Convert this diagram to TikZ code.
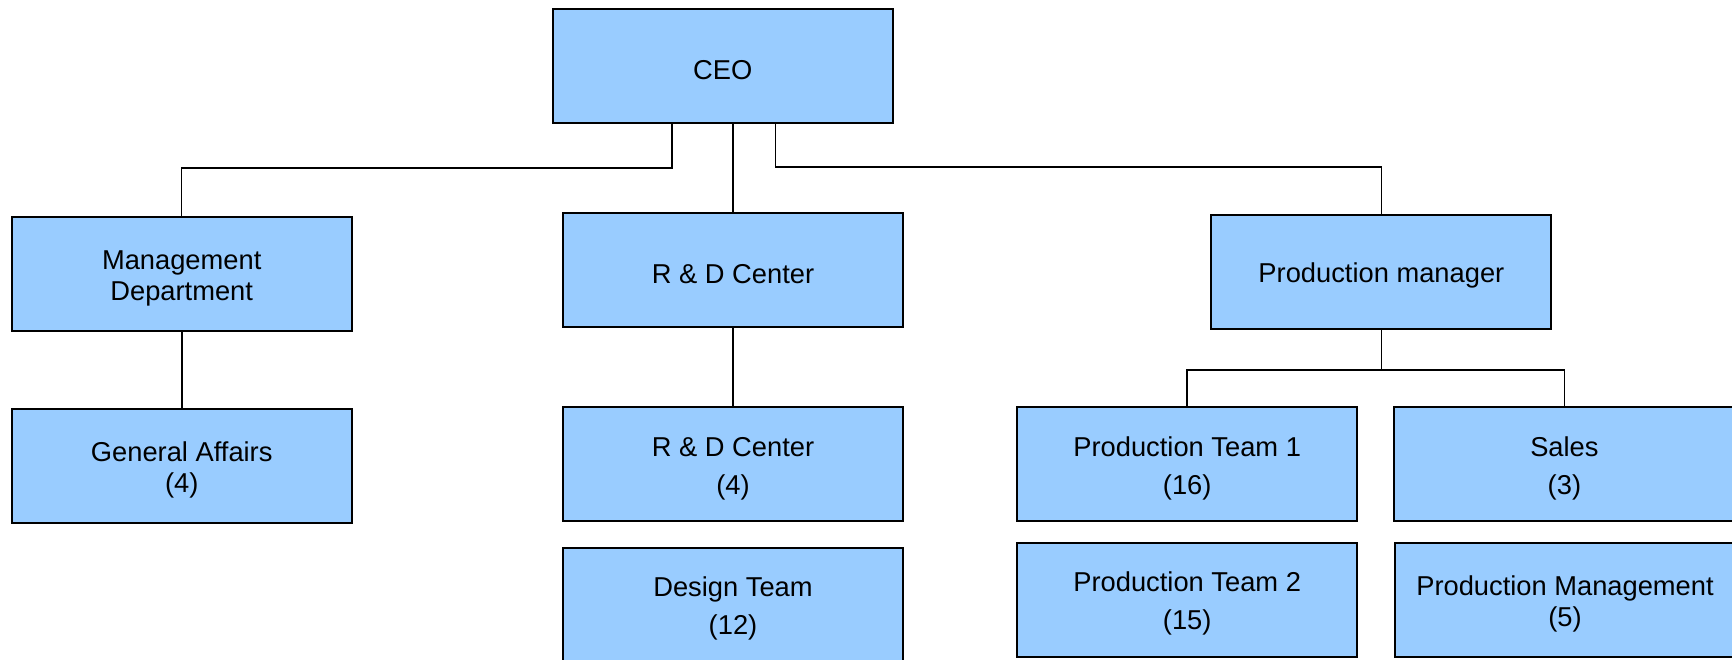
\documentclass[tikz,border=0pt]{standalone}
\usepackage{fontspec}
\setmainfont{Liberation Sans}
\definecolor{boxblue}{HTML}{99CCFF}
\newcommand{\lowtext}{\rule{0pt}{28pt}}
\begin{document}
\begin{tikzpicture}[x=1pt,y=-1pt,
  unit/.style={draw=black, line width=2pt, fill=boxblue, rectangle,
    minimum width=340pt, minimum height=114pt, inner sep=0pt, align=center,
    font=\fontsize{27.3pt}{31pt}\selectfont},
  loose/.style={font=\fontsize{27.3pt}{38pt}\selectfont},
  link/.style={draw=black, line width=1.5pt}]
\useasboundingbox (0,0) rectangle (1732,659);
\clip (0,0) rectangle (1732,659);
\fill[white] (0,0) rectangle (1732,659);

\node[unit] (CEO) at (722.8,65.9) {\lowtext CEO};
\node[unit] (Mgmt) at (181.7,274.2) {\lowtext Management\\Department};
\node[unit] (RD) at (733,270) {\lowtext R \& D Center};
\node[unit] (PM) at (1381.4,271.8) {\lowtext Production manager};

\node[unit] (GA) at (181.7,465.5) {\lowtext General Affairs\\(4)};
\node[unit,loose] (RDsub) at (733,464.2) {\lowtext R \& D Center\\(4)};
\node[unit,loose] (Design) at (733,604.7) {\lowtext Design Team\\(12)};
\node[unit,loose] (PT1) at (1187.2,464.2) {\lowtext Production Team 1\\(16)};
\node[unit,loose] (Sales) at (1564.4,464.2) {\lowtext Sales\\(3)};
\node[unit,loose] (PT2) at (1187.2,599.7) {\lowtext Production Team 2\\(15)};
\node[unit] (PMgmt) at (1565,600.2) {\lowtext Production Management\\(5)};

\draw[link] ([xshift=-50.6pt]CEO.south) -- ++(0,44) -| (Mgmt.north);
\draw[link] (RD.north) -- (RD.north |- CEO.south);
\draw[link] ([xshift=52.8pt]CEO.south) -- ++(0,43) -| (PM.north);
\draw[link, line width=2.2pt] (Mgmt.south) -- (GA.north);
\draw[link] (RD.south) -- (RDsub.north);
\draw[link] (PM.south) -- ++(0,40) coordinate (pmj);
\draw[link] (PT1.north) |- (pmj) -| (Sales.north);
\end{tikzpicture}
\end{document}
